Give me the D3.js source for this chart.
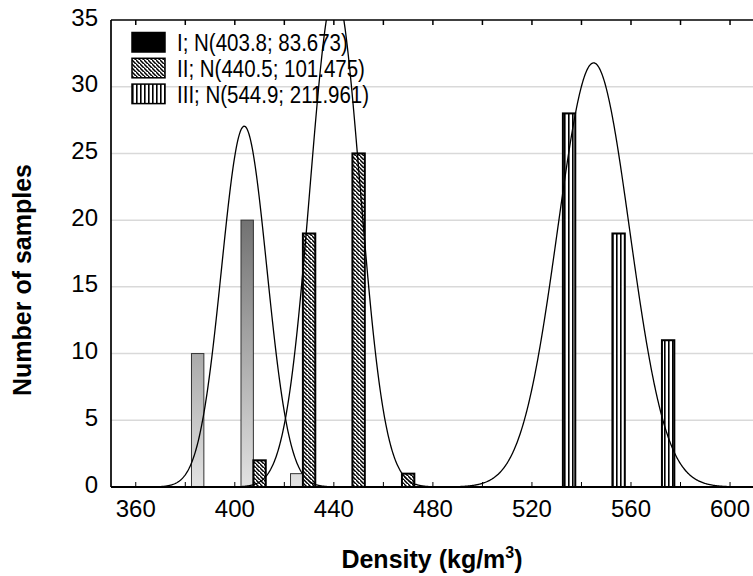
<!DOCTYPE html>
<html>
<head>
<meta charset="utf-8">
<script src="https://cdn.jsdelivr.net/npm/d3@7"></script>
<style>
  html, body { margin: 0; padding: 0; background: #fff; }
  svg { display: block; }
  text { font-family: Arial, "Liberation Sans", sans-serif; fill: #000; }
</style>
</head>
<body>
<svg id="chart" width="753" height="576"></svg>
<script>
// ---- data ----
const binWidth = 20;
const groupI_bins = [390, 410, 430];
const groupI_counts = [10, 20, 1];
const groupII_bins = [410, 430, 450, 470];
const groupII_counts = [2, 19, 25, 1];
const groupIII_bins = [530, 550, 570];
const groupIII_counts = [28, 19, 11];
const fitMeans = [403.8, 440.5, 544.9];
const fitVariances = [83.673, 101.475, 211.961];
const legendLabels = ["I; N(403.8; 83.673)", "II; N(440.5; 101.475)", "III; N(544.9; 211.961)"];
const xTickLabels = [360, 400, 440, 480, 520, 560, 600];
const xMinorTicks = [360, 380, 400, 420, 440, 460, 480, 500, 520, 540, 560, 580, 600];
const yTickLabels = [0, 5, 10, 15, 20, 25, 30, 35];
const xTitle = "Density (kg/m";
const yTitle = "Number of samples";

// ---- layout ----
const svg = d3.select("#chart");
const L = 111, T = 20, B = 487;
const SY = 1.14;
const x = d3.scaleLinear().domain([350, 610]).range([L, 754.8]);
const y = d3.scaleLinear().domain([0, 35]).range([B, T]);
const groupOffset = [-5, 0, 5];
const barHalf = 2.5;

const defs = svg.append("defs");
const grad = defs.append("linearGradient").attr("id", "gradI")
  .attr("gradientUnits", "userSpaceOnUse")
  .attr("x1", 0).attr("x2", 0).attr("y1", T).attr("y2", B);
grad.append("stop").attr("offset", 0).attr("stop-color", "#1e1e1e");
grad.append("stop").attr("offset", 1).attr("stop-color", "#e2e2e2");

const pII = defs.append("pattern").attr("id", "hatchII")
  .attr("patternUnits", "userSpaceOnUse").attr("width", 4).attr("height", 4);
pII.append("rect").attr("width", 4).attr("height", 4).attr("fill", "#fff");
pII.append("path").attr("d", "M-1,-1 L5,5 M-3,1 L1,5 M3,-3 L7,1")
  .attr("stroke", "#000").attr("stroke-width", 1.5);

const pIII = defs.append("pattern").attr("id", "stripeIII")
  .attr("patternUnits", "userSpaceOnUse").attr("width", 4).attr("height", 4);
pIII.append("rect").attr("width", 4).attr("height", 4).attr("fill", "#fff");
pIII.append("rect").attr("x", 0).attr("width", 1.6).attr("height", 4).attr("fill", "#000");

defs.append("clipPath").attr("id", "plotClip")
  .append("rect").attr("x", L).attr("y", T).attr("width", 760 - L).attr("height", B - T);

// gridlines
svg.append("g").selectAll("line")
  .data(yTickLabels.filter(v => v > 0 && v < 35))
  .join("line")
  .attr("x1", L).attr("x2", 753)
  .attr("y1", d => y(d)).attr("y2", d => y(d))
  .attr("stroke", "#d9d9d9").attr("stroke-width", 1.5);

// bars
const groups = [
  { bins: groupI_bins, counts: groupI_counts, fill: "url(#gradI)", stroke: "#333", sw: 1 },
  { bins: groupII_bins, counts: groupII_counts, fill: "url(#hatchII)", stroke: "#000", sw: 2 },
  { bins: groupIII_bins, counts: groupIII_counts, fill: "url(#stripeIII)", stroke: "#000", sw: 2 }
];
groups.forEach((g, gi) => {
  const data = g.bins.map((b, i) => ({ b, c: g.counts[i] }));
  svg.append("g").selectAll("rect").data(data).join("rect")
    .attr("x", d => x(d.b + groupOffset[gi] - barHalf))
    .attr("width", d => x(d.b + groupOffset[gi] + barHalf) - x(d.b + groupOffset[gi] - barHalf))
    .attr("y", d => y(d.c))
    .attr("height", d => y(0) - y(d.c))
    .attr("fill", g.fill).attr("stroke", g.stroke).attr("stroke-width", g.sw);
});

// fitted normal curves
const line = d3.line().x(d => x(d[0])).y(d => y(d[1]));
const curveG = svg.append("g").attr("clip-path", "url(#plotClip)");
groups.forEach((g, gi) => {
  const n = d3.sum(g.counts);
  const mu = fitMeans[gi], sd = Math.sqrt(fitVariances[gi]);
  const xs = d3.range(350, 610.01, 0.25);
  const pts = xs.map(v => [v, n * binWidth * Math.exp(-0.5 * ((v - mu) / sd) ** 2) / (sd * Math.sqrt(2 * Math.PI))]);
  curveG.append("path").datum(pts).attr("d", line)
    .attr("fill", "none").attr("stroke", "#000").attr("stroke-width", 1.3);
});

// axes
svg.append("line").attr("x1", L).attr("x2", L).attr("y1", T).attr("y2", B)
  .attr("stroke", "#000").attr("stroke-width", 1.7);
svg.append("line").attr("x1", L).attr("x2", 753).attr("y1", B).attr("y2", B)
  .attr("stroke", "#000").attr("stroke-width", 2);
svg.append("line").attr("x1", L).attr("x2", 753).attr("y1", T).attr("y2", T)
  .attr("stroke", "#000").attr("stroke-width", 1.7);

// ticks
const tg = svg.append("g");
tg.selectAll("line.b").data(xMinorTicks).join("line").attr("class", "b")
  .attr("x1", d => x(d)).attr("x2", d => x(d)).attr("y1", B).attr("y2", B - 5)
  .attr("stroke", "#000").attr("stroke-width", 1);
tg.selectAll("line.t").data(xMinorTicks).join("line").attr("class", "t")
  .attr("x1", d => x(d)).attr("x2", d => x(d)).attr("y1", T).attr("y2", T + 5)
  .attr("stroke", "#000").attr("stroke-width", 1.5);

// tick labels
svg.append("g").selectAll("text").data(xTickLabels).join("text")
  .attr("x", d => x(d)).attr("y", 517)
  .attr("text-anchor", "middle").attr("font-size", 24)
  .text(d => d);
svg.append("g").selectAll("text").data(yTickLabels).join("text")
  .attr("x", 98).attr("y", d => y(d) + 5.5)
  .attr("text-anchor", "end").attr("font-size", 24)
  .text(d => d);

// titles
const xt = svg.append("text").attr("x", 432).attr("y", 568)
  .attr("text-anchor", "middle").attr("font-size", 25).attr("font-weight", "bold");
xt.append("tspan").text(xTitle);
xt.append("tspan").attr("dy", -10).attr("font-size", 16).text("3");
xt.append("tspan").attr("dy", 10).text(")");

svg.append("text")
  .attr("transform", "translate(31,280) rotate(-90)")
  .attr("text-anchor", "middle").attr("font-size", 25).attr("font-weight", "bold")
  .text(yTitle);

// legend
const legFills = ["#000", "url(#hatchII)", "url(#stripeIII)"];
const lg = svg.append("g");
legendLabels.forEach((lab, i) => {
  const yy = 32.5 + i * 25.8;
  lg.append("rect").attr("x", 132).attr("y", yy).attr("width", 33).attr("height", 19.5)
    .attr("fill", legFills[i]).attr("stroke", "#000").attr("stroke-width", 1.5);
  lg.append("text").attr("transform", `translate(177,${yy + 18.5}) scale(1,${SY})`)
    .attr("font-size", 20.5).text(lab);
});
</script>
</body>
</html>
